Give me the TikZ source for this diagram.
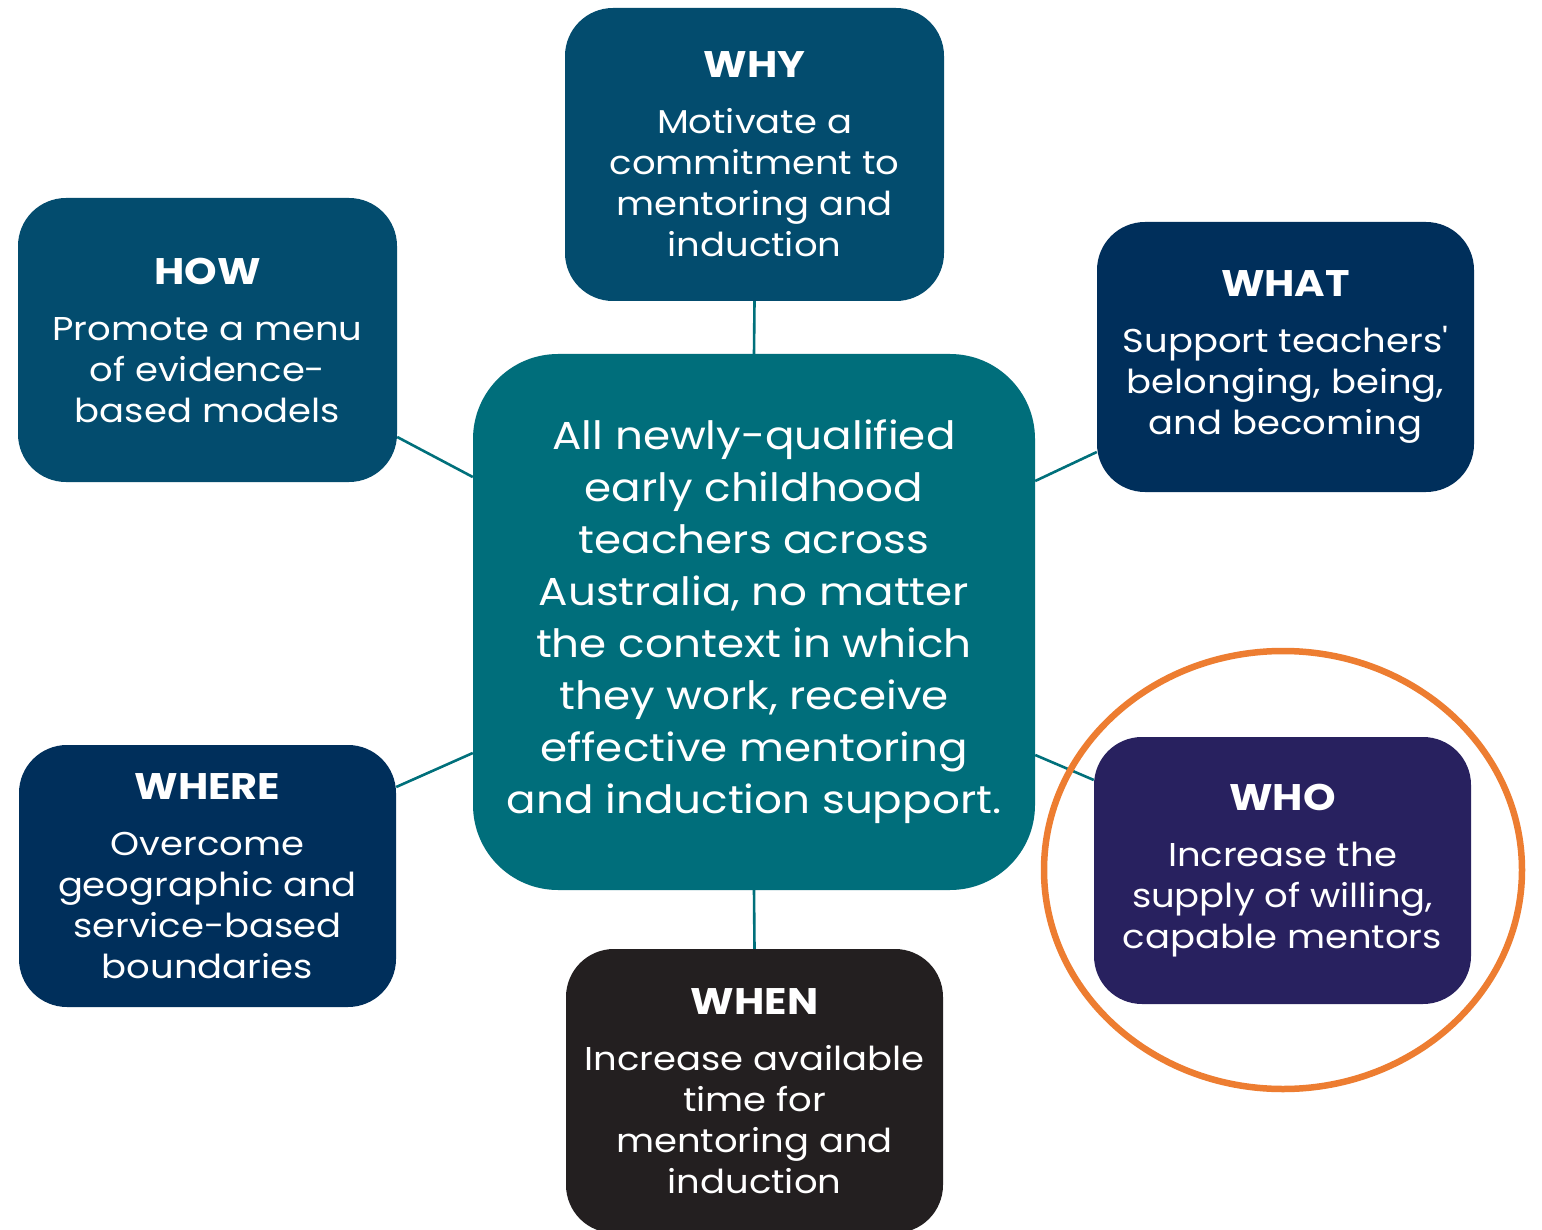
\documentclass[tikz,border=0pt]{standalone}
\usepackage{fontspec}
\setmainfont{Poppins}[FakeStretch=1.12, Ligatures=TeXOff]
\usetikzlibrary{shapes.geometric,backgrounds}
\definecolor{whyblue}{HTML}{034C6E}
\definecolor{navy}{HTML}{002F5B}
\definecolor{whopurple}{HTML}{28215F}
\definecolor{whendark}{HTML}{231F20}
\definecolor{centerteal}{HTML}{006E7B}
\definecolor{linkteal}{HTML}{00707B}
\definecolor{ringorange}{HTML}{ED7D31}
\tikzset{
  box/.style={rounded corners=48pt, align=center, text=white, inner sep=0pt,
    minimum width=377pt, font=\fontsize{33}{41}\selectfont},
  hub/.style={rounded corners=85pt, align=center, text=white, inner sep=0pt,
    fill=centerteal, minimum width=562pt, minimum height=536pt,
    font=\fontsize{39}{52}\selectfont},
  link/.style={draw=linkteal, line width=2.6pt}
}
\newcommand{\ttlx}[1]{{\fontsize{37}{41}\selectfont\bfseries #1}\\[15pt]}
\begin{document}
\begin{tikzpicture}[x=1pt,y=-1pt]
\useasboundingbox (0,0) rectangle (1542,1230);

\node[hub] (hub) at (754,622) {All newly-qualified\\early childhood\\teachers across\\Australia, no matter\\the context in which\\they work, receive\\effective mentoring\\and induction support.};

\node[box, fill=whyblue, minimum width=379pt, minimum height=293pt] (why) at (754.5,154.5)
  {\ttlx{WHY}Motivate a\\commitment to\\mentoring and\\induction};
\node[box, fill=whyblue, minimum width=379pt, minimum height=284pt] (how) at (207.5,340)
  {\ttlx{HOW}Promote a menu\\of evidence-\\based models};
\node[box, fill=navy, minimum height=270pt] (what) at (1285.5,357)
  {\ttlx{WHAT}Support teachers'\\belonging, being,\\and becoming};
\node[box, fill=navy, minimum height=262pt] (where) at (207.5,876)
  {\ttlx{WHERE}Overcome\\geographic and\\service-based\\boundaries};
\node[box, fill=whopurple, minimum height=267pt] (who) at (1282.5,870.5)
  {\ttlx{WHO}Increase the\\supply of willing,\\capable mentors};
\node[box, fill=whendark, minimum height=284pt] (when) at (754.5,1091)
  {\ttlx{WHEN}Increase available\\time for\\mentoring and\\induction};

\node[ellipse, draw=ringorange, line width=6.5pt, minimum width=478pt, minimum height=438pt, inner sep=0pt] (ring) at (1283,870) {};

\begin{scope}[on background layer]
\fill[white] (0,0) rectangle (1542,1230);
\draw[link] (why.south) -- (hub.north);
\draw[link] (when.north) -- (hub.south);
\draw[link] (how.east |- 0,437) -- (hub.west |- 0,477);
\draw[link] (where.east |- 0,787) -- (hub.west |- 0,753);
\draw[link] (what.west |- 0,452) -- (hub.east |- 0,481);
\draw[link] (who.west |- 0,780) -- (hub.east |- 0,755);
\end{scope}
\end{tikzpicture}
\end{document}
